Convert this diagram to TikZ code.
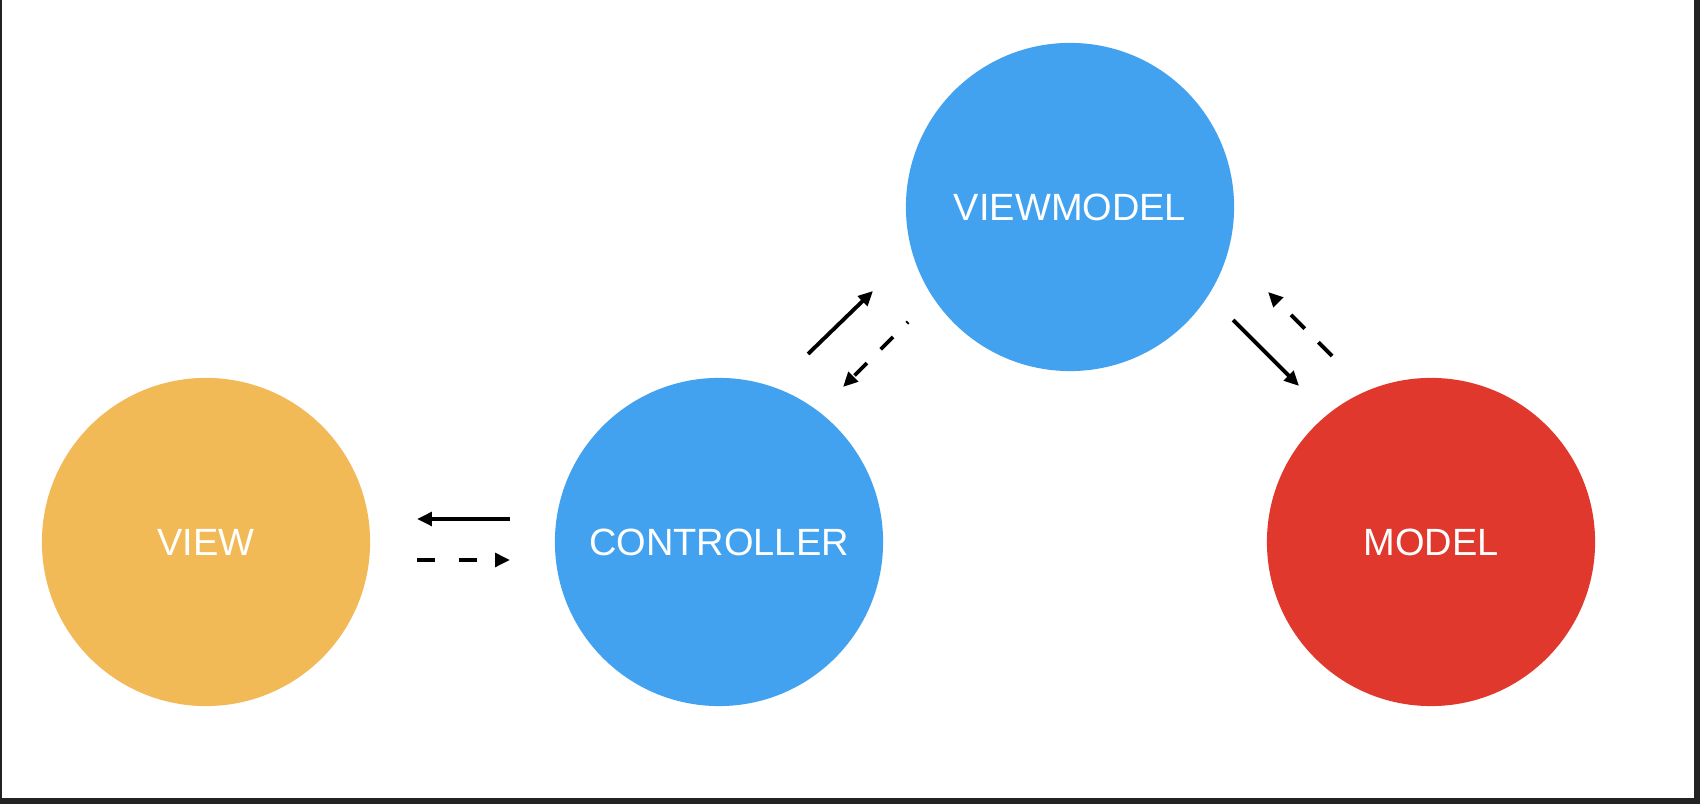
\documentclass[tikz,border=0pt]{standalone}
\usepackage{fontspec}
\setmainfont{Liberation Sans}
\usetikzlibrary{arrows.meta}
\definecolor{vieworange}{HTML}{F2B957}
\definecolor{ctrlblue}{HTML}{42A2F0}
\definecolor{modelred}{HTML}{E0382C}
\definecolor{frame}{HTML}{222222}
\tikzset{
  bubble/.style={circle, minimum size=3.28cm, inner sep=0pt, text=white, font=\fontsize{10.8}{13}\selectfont},
  solidarrow/.style={line width=1.1pt, -{Triangle[length=4.2pt, width=3.8pt]}},
  dasharrow/.style={line width=1.1pt, dash pattern=on 5pt off 7pt, -{Triangle[length=4.2pt, width=3.8pt]}},
}
\begin{document}
\begin{tikzpicture}[x=0.01cm, y=-0.01cm]
  \useasboundingbox (0,0) rectangle (1700,804);
  \fill[white] (0,0) rectangle (1700,804);
  \fill[frame] (0,0) rectangle (2,804);
  \fill[frame] (1694,0) rectangle (1700,804);
  \fill[frame] (0,798) rectangle (1700,804);

  \node[bubble, fill=vieworange] (view) at (206,542) {VIEW};
  \node[bubble, fill=ctrlblue] (controller) at (719,542) {CONTROLLER};
  \node[bubble, fill=ctrlblue] (viewmodel) at (1070,207) {VIEWMODEL};
  \node[bubble, fill=modelred] (model) at (1431,542) {MODEL};

  \coordinate (vc1) at (510,519);
  \coordinate (vc2) at (417,519);
  \coordinate (vc3) at (417,560);
  \coordinate (vc4) at (510,560);
  \coordinate (cv1) at (808,354);
  \coordinate (cv2) at (873,291);
  \coordinate (cv3) at (908,322);
  \coordinate (cv4) at (843,387);
  \coordinate (vm1) at (1233,320);
  \coordinate (vm2) at (1299,386);
  \coordinate (vm3) at (1332,356);
  \coordinate (vm4) at (1268,292);

  \draw[solidarrow] (vc1) -- (vc2);
  \draw[dasharrow] (vc3) -- (vc4);
  \draw[solidarrow] (cv1) -- (cv2);
  \draw[dasharrow, dash pattern=on 5pt off 5.5pt, dash phase=4.5pt] (cv3) -- (cv4);
  \draw[solidarrow] (vm1) -- (vm2);
  \draw[dasharrow, dash pattern=on 5.5pt off 5.5pt] (vm3) -- (vm4);
\end{tikzpicture}
\end{document}
